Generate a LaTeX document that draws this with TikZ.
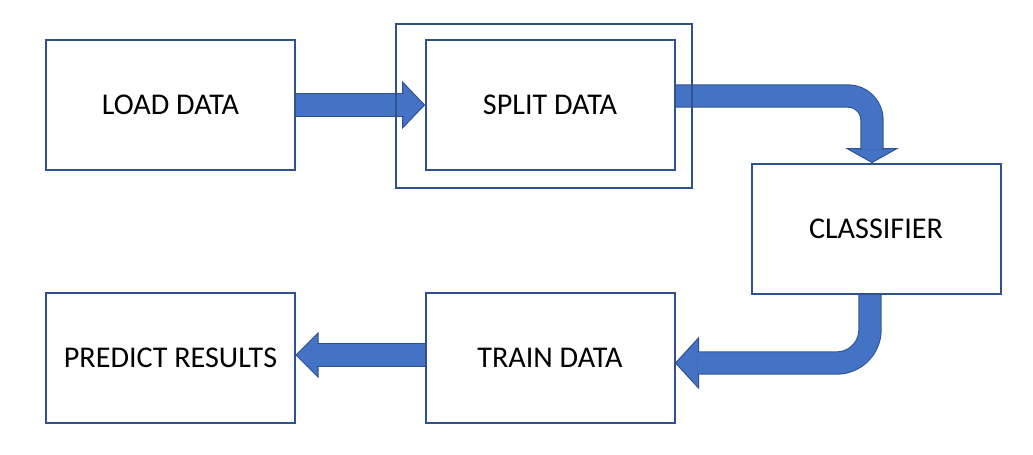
\documentclass[tikz,border=0pt]{standalone}
\usepackage{fontspec}
\setmainfont{Carlito}
\usetikzlibrary{calc,backgrounds}

\definecolor{boxblue}{RGB}{47,82,143}
\definecolor{arrowblue}{RGB}{68,114,196}

\tikzset{every picture/.style={line width=0.75pt}}
\tikzset{
  stage/.style={draw=boxblue, line width=1.5pt, fill=white, inner sep=0pt,
    minimum width=186.75pt, minimum height=97.5pt, font=\fontsize{22.6}{27}\selectfont},
  shaft/.style={draw=boxblue, line width=0.75pt, double=arrowblue, double distance=16pt},
  blockhead/.style={draw=boxblue, fill=arrowblue, line width=0.75pt, line join=miter},
}

\begin{document}
\begin{tikzpicture}[x=0.75pt,y=0.75pt,yscale=-1,xscale=1]
\useasboundingbox (0,0) rectangle (1033,454);

%Shape: Rectangle
\node [stage] (load) at (170.5,105) {LOAD DATA};
%Shape: Rectangle
\node [stage] (split) at (550,105) {SPLIT DATA};
%Shape: Rectangle
\node [stage] (classifier) at (876,228.5) {CLASSIFIER};
%Shape: Rectangle
\node [stage] (train) at (550,358) {TRAIN DATA};
%Shape: Rectangle
\node [stage] (predict) at (170.5,358) {PREDICT RESULTS};

\begin{scope}[on background layer]
%Right Arrow
\draw [blockhead] ($(split.west)+(-22,-23)$) -- (split.west) -- ($(split.west)+(-22,23)$) -- cycle ;
\draw [shaft] (load.east) -- ($(split.west)+(-21,0)$) ;
%Bent Arrow
\draw [blockhead] ($(classifier.north)+(-29,-14)$) -- ($(classifier.north)+(-4,0)$) -- ($(classifier.north)+(21,-14)$) -- cycle ;
\draw [shaft, rounded corners=18] ($(split.east)+(0,-9)$) -| ($(classifier.north)+(-4,-13)$) ;
%Bent Arrow
\draw [blockhead] ($(train.east)+(23,-20)$) -- ($(train.east)+(0,5)$) -- ($(train.east)+(23,30)$) -- cycle ;
\draw [shaft, rounded corners=25] ($(classifier.south)+(-6,0)$) |- ($(train.east)+(22,5)$) ;
%Left Arrow
\draw [blockhead] ($(predict.east)+(22,-25)$) -- ($(predict.east)+(0,-3)$) -- ($(predict.east)+(22,19)$) -- cycle ;
\draw [shaft] ($(train.west)+(0,-3)$) -- ($(predict.east)+(21,-3)$) ;
\end{scope}

%Shape: Rectangle
\draw [draw=boxblue, line width=1.5pt] (396,24) rectangle (692,188) ;

\end{tikzpicture}
\end{document}
